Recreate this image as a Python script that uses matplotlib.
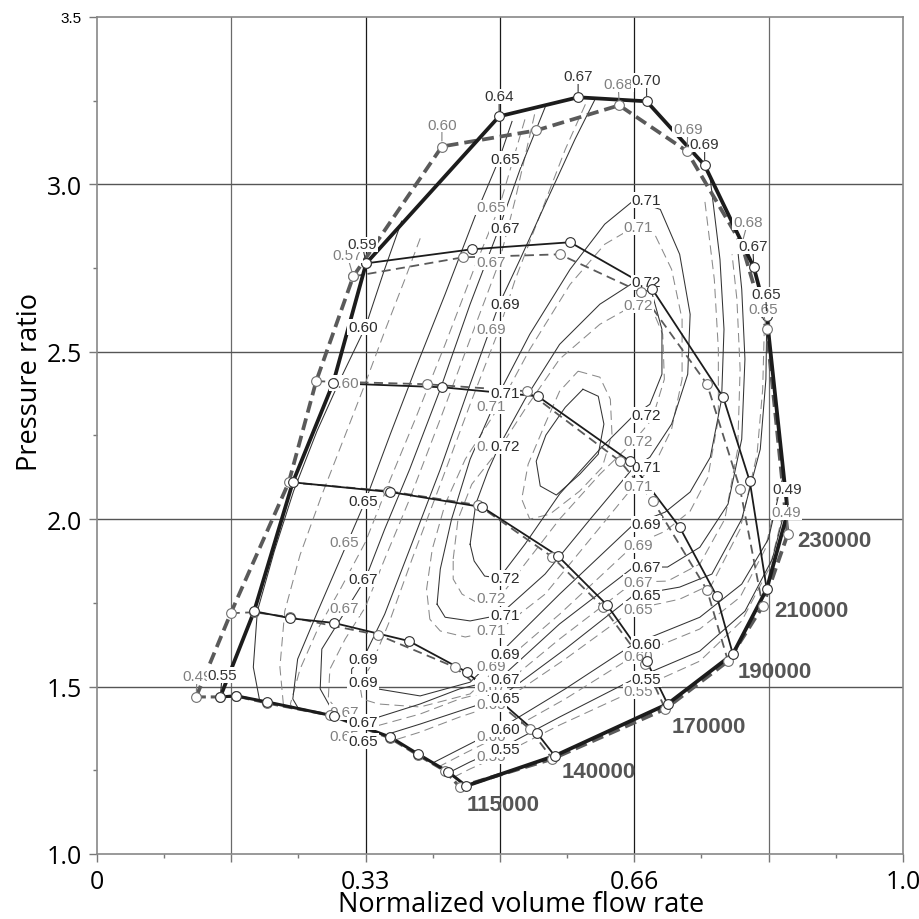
import matplotlib
matplotlib.use("Agg")
import matplotlib.pyplot as plt
from matplotlib.patches import Polygon
import numpy as np

plt.rcParams['font.family'] = ['Open Sans', 'DejaVu Sans']
LAB = ['Liberation Sans', 'DejaVu Sans']

# ---------------- speed lines (solid = measured, dashed = simulated) ----------------
speeds = [115000, 140000, 170000, 190000, 210000, 230000]

s115_x = [0.153, 0.173, 0.211, 0.294, 0.364, 0.398, 0.436, 0.458]
s115_y = [1.469, 1.472, 1.454, 1.412, 1.349, 1.299, 1.245, 1.203]
d115_x = [0.123, 0.153, 0.173, 0.211, 0.289, 0.364, 0.398, 0.432, 0.450]
d115_y = [1.469, 1.469, 1.472, 1.451, 1.415, 1.346, 1.296, 1.248, 1.200]

s140_x = [0.195, 0.240, 0.294, 0.387, 0.459, 0.546, 0.568]
s140_y = [1.725, 1.704, 1.690, 1.636, 1.543, 1.361, 1.293]
d140_x = [0.166, 0.195, 0.240, 0.349, 0.444, 0.537, 0.565]
d140_y = [1.719, 1.722, 1.707, 1.654, 1.558, 1.373, 1.284]

s170_x = [0.243, 0.364, 0.478, 0.572, 0.633, 0.682, 0.708]
s170_y = [2.110, 2.081, 2.036, 1.890, 1.743, 1.576, 1.448]
d170_x = [0.238, 0.361, 0.473, 0.565, 0.628, 0.680, 0.705]
d170_y = [2.110, 2.084, 2.042, 1.887, 1.737, 1.567, 1.433]

s190_x = [0.293, 0.428, 0.547, 0.661, 0.723, 0.769, 0.789]
s190_y = [2.406, 2.394, 2.367, 2.173, 1.976, 1.770, 1.597]
d190_x = [0.272, 0.409, 0.534, 0.649, 0.690, 0.757, 0.783]
d190_y = [2.412, 2.403, 2.382, 2.173, 2.054, 1.788, 1.576]

s210_x = [0.334, 0.465, 0.587, 0.689, 0.777, 0.810, 0.831]
s210_y = [2.764, 2.806, 2.827, 2.687, 2.364, 2.113, 1.791]
d210_x = [0.318, 0.454, 0.574, 0.675, 0.757, 0.798, 0.826]
d210_y = [2.725, 2.782, 2.791, 2.678, 2.403, 2.090, 1.740]

s230_x = [0.334, 0.499, 0.597, 0.682, 0.754, 0.815, 0.831, 0.857]
s230_y = [2.764, 3.203, 3.260, 3.248, 3.057, 2.752, 2.606, 2.021]
d230_x = [0.318, 0.428, 0.545, 0.648, 0.732, 0.800, 0.831, 0.857]
d230_y = [2.725, 3.113, 3.161, 3.236, 3.099, 2.821, 2.567, 1.955]

# efficiency values written at the 230000 points and at the 115000 surge point
s230_eff = ['0.59', '0.64', '0.67', '0.70', '0.69', '0.67', '0.65', '0.49']
d230_eff = ['0.57', '0.60', '', '0.68', '0.69', '0.68', '0.65', '0.49']
s115_surge_eff = '0.55'
d115_surge_eff = '0.49'

# ---------------- efficiency contours (solid / dashed) ----------------
c55_s_x = [0.426, 0.463, 0.499, 0.574, 0.666, 0.748, 0.804, 0.838, 0.857]
c55_s_y = [1.230, 1.275, 1.313, 1.409, 1.522, 1.606, 1.725, 1.881, 2.060]
c55_d_x = [0.426, 0.463, 0.499, 0.574, 0.666, 0.748, 0.800, 0.835, 0.854]
c55_d_y = [1.209, 1.254, 1.293, 1.385, 1.487, 1.576, 1.696, 1.857, 2.045]

c60a_s_x = [0.205, 0.194, 0.199, 0.220, 0.244, 0.273, 0.302, 0.333, 0.356, 0.378]
c60a_s_y = [1.418, 1.558, 1.725, 1.904, 2.084, 2.263, 2.418, 2.573, 2.740, 2.890]
c60b_s_x = [0.407, 0.450, 0.499, 0.581, 0.666, 0.748, 0.800, 0.833, 0.851]
c60b_s_y = [1.260, 1.313, 1.373, 1.493, 1.627, 1.707, 1.806, 1.940, 2.125]
c60a_d_x = [0.233, 0.227, 0.233, 0.252, 0.279, 0.308, 0.333, 0.357, 0.382, 0.403]
c60a_d_y = [1.403, 1.558, 1.725, 1.893, 2.072, 2.251, 2.406, 2.561, 2.716, 2.851]
c60b_d_x = [0.407, 0.450, 0.499, 0.581, 0.666, 0.748, 0.798, 0.829, 0.847]
c60b_d_y = [1.239, 1.293, 1.352, 1.463, 1.591, 1.672, 1.767, 1.910, 2.096]

c65_s_x = [0.515, 0.499, 0.470, 0.432, 0.395, 0.364, 0.333, 0.302, 0.274, 0.249, 0.243, 0.259, 0.295,
           0.333, 0.401, 0.450, 0.499, 0.581, 0.666, 0.723, 0.763, 0.800, 0.823, 0.830, 0.831]
c65_s_y = [3.188, 3.075, 2.910, 2.672, 2.448, 2.254, 2.054, 1.881, 1.725, 1.582, 1.463, 1.397, 1.349,
           1.337, 1.388, 1.427, 1.466, 1.612, 1.773, 1.797, 1.836, 2.000, 2.209, 2.418, 2.582]
c65_d_x = [0.531, 0.499, 0.470, 0.432, 0.395, 0.364, 0.333, 0.302, 0.274, 0.252, 0.240, 0.252, 0.289,
           0.333, 0.401, 0.450, 0.499, 0.581, 0.666, 0.723, 0.763, 0.798, 0.819, 0.826, 0.828]
c65_d_y = [3.194, 2.931, 2.761, 2.522, 2.299, 2.119, 1.931, 1.791, 1.672, 1.552, 1.448, 1.382, 1.334,
           1.313, 1.364, 1.409, 1.448, 1.582, 1.731, 1.761, 1.806, 1.970, 2.194, 2.388, 2.567]

c67_s_x = [0.556, 0.525, 0.499, 0.463, 0.426, 0.388, 0.357, 0.333, 0.302, 0.279, 0.277, 0.293, 0.330,
           0.401, 0.450, 0.499, 0.574, 0.666, 0.708, 0.748, 0.783, 0.800, 0.804, 0.800, 0.795]
c67_s_y = [3.230, 3.045, 2.869, 2.642, 2.388, 2.149, 1.970, 1.821, 1.701, 1.612, 1.493, 1.424, 1.394,
           1.448, 1.493, 1.522, 1.687, 1.857, 1.857, 1.916, 2.045, 2.239, 2.478, 2.687, 2.806]
c67_d_x = [0.543, 0.519, 0.499, 0.463, 0.426, 0.388, 0.357, 0.333, 0.308, 0.289, 0.287, 0.302, 0.333,
           0.401, 0.450, 0.499, 0.574, 0.666, 0.708, 0.748, 0.779, 0.795, 0.798, 0.794, 0.788]
c67_d_y = [3.209, 2.955, 2.767, 2.537, 2.299, 2.060, 1.881, 1.737, 1.642, 1.552, 1.463, 1.418, 1.373,
           1.418, 1.463, 1.493, 1.642, 1.812, 1.815, 1.866, 2.000, 2.209, 2.448, 2.657, 2.791]

c69_s_x = [0.618, 0.593, 0.556, 0.525, 0.499, 0.463, 0.426, 0.388, 0.357, 0.333, 0.316, 0.316, 0.333,
           0.401, 0.463, 0.499, 0.574, 0.666, 0.705, 0.736, 0.761, 0.775, 0.778, 0.773, 0.761]
c69_s_y = [3.254, 3.134, 2.940, 2.776, 2.642, 2.403, 2.149, 1.910, 1.716, 1.597, 1.552, 1.513, 1.499,
           1.472, 1.513, 1.597, 1.776, 1.985, 2.021, 2.081, 2.185, 2.358, 2.567, 2.776, 3.015]
c69_d_x = [0.606, 0.581, 0.550, 0.519, 0.499, 0.463, 0.426, 0.391, 0.364, 0.341, 0.326, 0.329, 0.349,
           0.401, 0.463, 0.499, 0.574, 0.666, 0.705, 0.736, 0.758, 0.771, 0.771, 0.766, 0.754]
c69_d_y = [3.239, 3.104, 2.910, 2.716, 2.567, 2.343, 2.104, 1.881, 1.701, 1.567, 1.507, 1.463, 1.448,
           1.439, 1.478, 1.561, 1.716, 1.922, 1.964, 2.024, 2.125, 2.299, 2.507, 2.716, 2.955]

c71_s_x = [0.422, 0.426, 0.440, 0.463, 0.499, 0.537, 0.587, 0.630, 0.666, 0.699, 0.723, 0.736, 0.733,
           0.713, 0.686, 0.666, 0.612, 0.556, 0.499, 0.463, 0.432, 0.422]
c71_s_y = [1.746, 1.851, 2.000, 2.179, 2.376, 2.552, 2.746, 2.881, 2.952, 2.925, 2.791, 2.612, 2.433,
           2.284, 2.185, 2.155, 2.000, 1.836, 1.713, 1.696, 1.707, 1.746]
c71_d_x = [0.413, 0.409, 0.416, 0.432, 0.457, 0.499, 0.537, 0.587, 0.630, 0.666, 0.692, 0.713, 0.726,
           0.726, 0.713, 0.692, 0.666, 0.612, 0.556, 0.499, 0.457, 0.426, 0.413]
c71_d_y = [1.701, 1.791, 1.910, 2.045, 2.179, 2.337, 2.507, 2.701, 2.821, 2.872, 2.851, 2.746, 2.597,
           2.418, 2.269, 2.164, 2.099, 1.940, 1.776, 1.669, 1.648, 1.666, 1.701]

c72_s_x = [0.463, 0.470, 0.485, 0.499, 0.531, 0.574, 0.624, 0.666, 0.689, 0.701, 0.701, 0.686, 0.666,
           0.624, 0.574, 0.531, 0.499, 0.481, 0.468, 0.463]
c72_s_y = [1.925, 2.045, 2.143, 2.218, 2.358, 2.522, 2.642, 2.707, 2.672, 2.567, 2.433, 2.343, 2.310,
           2.209, 2.075, 1.925, 1.824, 1.830, 1.875, 1.925]
c72_d_x = [0.442, 0.448, 0.465, 0.499, 0.531, 0.574, 0.624, 0.666, 0.689, 0.702, 0.704, 0.689, 0.666,
           0.624, 0.574, 0.531, 0.499, 0.475, 0.453, 0.442, 0.442]
c72_d_y = [1.881, 2.000, 2.104, 2.209, 2.328, 2.478, 2.582, 2.639, 2.627, 2.552, 2.418, 2.299, 2.233,
           2.134, 2.000, 1.866, 1.764, 1.746, 1.776, 1.821, 1.881]

c73_s_x = [0.603, 0.622, 0.629, 0.622, 0.599, 0.570, 0.550, 0.545, 0.557, 0.581, 0.603]
c73_s_y = [2.388, 2.367, 2.284, 2.194, 2.134, 2.072, 2.099, 2.173, 2.251, 2.334, 2.388]
c73_d_x = [0.597, 0.624, 0.637, 0.639, 0.627, 0.599, 0.562, 0.537, 0.527, 0.535, 0.556, 0.574, 0.597]
c73_d_y = [2.442, 2.424, 2.358, 2.254, 2.155, 2.084, 2.015, 2.000, 2.060, 2.164, 2.284, 2.382, 2.442]

# contour labels: value and pressure ratio where the contour meets x = 1/3, 1/2, 2/3
lab_s_033 = ['0.60', '0.65', '0.67', '0.69', '0.69', '0.67', '0.65']
lab_s_033_y = [2.573, 2.054, 1.821, 1.582, 1.513, 1.394, 1.337]
lab_s_050 = ['0.65', '0.67', '0.69', '0.71', '0.72', '0.72', '0.71', '0.69', '0.67', '0.65', '0.60', '0.55']
lab_s_050_y = [3.075, 2.869, 2.642, 2.376, 2.218, 1.824, 1.713, 1.597, 1.522, 1.466, 1.373, 1.313]
lab_s_066 = ['0.71', '0.72', '0.72', '0.71', '0.69', '0.67', '0.65', '0.60', '0.55']
lab_s_066_y = [2.952, 2.707, 2.310, 2.155, 1.985, 1.857, 1.773, 1.627, 1.522]
lab_d_033 = ['0.60', '0.65', '0.67', '0.67', '0.65']
lab_d_033_y = [2.406, 1.931, 1.734, 1.424, 1.352]
lab_d_050 = ['0.65', '0.67', '0.69', '0.71', '0.72', '0.72', '0.71', '0.69', '0.67', '0.65', '0.60', '0.55']
lab_d_050_y = [2.931, 2.767, 2.567, 2.337, 2.218, 1.764, 1.669, 1.561, 1.499, 1.448, 1.352, 1.293]
lab_d_066 = ['0.71', '0.72', '0.72', '0.71', '0.69', '0.67', '0.65', '0.60', '0.55']
lab_d_066_y = [2.872, 2.639, 2.233, 2.099, 1.922, 1.812, 1.731, 1.591, 1.487]

# ---------------- styles ----------------
C_SOLID = '#1c1c1c'
C_DASH = '#5a5a5a'
C_CS = '#333333'
C_CD = '#8a8a8a'
C_LS = '#2a2a2a'
C_LD = '#808080'

fig = plt.figure(figsize=(9.19, 9.20), dpi=100)
ax = fig.add_axes([0.1055, 0.0707, 0.8770, 0.9098])
ax.set_xlim(0, 1.0)
ax.set_ylim(1.0, 3.5)

# grid
for gx in [1/6, 1/3, 0.5, 2/3, 5/6]:
    col = '#1a1a1a' if gx in (1/3, 0.5, 2/3) else '#6a6a6a'
    ax.axvline(gx, color=col, lw=0.9, zorder=0.5)
for gy in [1.5, 2.0, 2.5, 3.0]:
    ax.axhline(gy, color='#555555', lw=1.0, zorder=0.5)

# clip region (outer envelope of the map)
bx = [d115_x[0], d140_x[0], d170_x[0], d190_x[0], d210_x[0], d230_x[1]] + s230_x[1:] + \
     [d230_x[-1], d210_x[-1], d190_x[-1], d170_x[-1], d140_x[-1]] + d115_x[::-1][:-1]
by = [d115_y[0], d140_y[0], d170_y[0], d190_y[0], d210_y[0], d230_y[1]] + s230_y[1:] + \
     [d230_y[-1], d210_y[-1], d190_y[-1], d170_y[-1], d140_y[-1]] + d115_y[::-1][:-1]
clip = Polygon(np.column_stack([bx, by]), closed=True, transform=ax.transData,
               fc='none', ec='none')
ax.add_patch(clip)

solid_contours = [(c55_s_x, c55_s_y), (c60a_s_x, c60a_s_y), (c60b_s_x, c60b_s_y), (c65_s_x, c65_s_y),
                  (c67_s_x, c67_s_y), (c69_s_x, c69_s_y), (c71_s_x, c71_s_y), (c72_s_x, c72_s_y),
                  (c73_s_x, c73_s_y)]
dash_contours = [(c55_d_x, c55_d_y), (c60a_d_x, c60a_d_y), (c60b_d_x, c60b_d_y), (c65_d_x, c65_d_y),
                 (c67_d_x, c67_d_y), (c69_d_x, c69_d_y), (c71_d_x, c71_d_y), (c72_d_x, c72_d_y),
                 (c73_d_x, c73_d_y)]
for cx, cy in dash_contours:
    ln, = ax.plot(cx, cy, color=C_CD, lw=0.75, ls=(0, (9, 5)), zorder=1)
    ln.set_clip_path(clip)
for cx, cy in solid_contours:
    ln, = ax.plot(cx, cy, color=C_CS, lw=0.75, zorder=1.2)
    ln.set_clip_path(clip)

# speed lines
solid_lines = [(s115_x, s115_y), (s140_x, s140_y), (s170_x, s170_y), (s190_x, s190_y),
               (s210_x, s210_y), (s230_x, s230_y)]
dash_lines = [(d115_x, d115_y), (d140_x, d140_y), (d170_x, d170_y), (d190_x, d190_y),
              (d210_x, d210_y), (d230_x, d230_y)]
thick = {0: 2.2, 5: 2.7}
for i, (lx, ly) in enumerate(dash_lines):
    w = thick.get(i, 1.3)
    ax.plot(lx, ly, color=C_DASH, lw=w, ls=(0, (3.2, 1.6)) if w > 2 else (0, (5, 3)), zorder=3)
for i, (lx, ly) in enumerate(solid_lines):
    ax.plot(lx, ly, color=C_SOLID, lw=thick.get(i, 1.3), zorder=3.2)

# surge and choke lines through the end points of the speed lines
surge_s_x = [l[0][0] for l in solid_lines[:5]]
surge_s_y = [l[1][0] for l in solid_lines[:5]]
surge_d_x = [l[0][0] for l in dash_lines[:5]]
surge_d_y = [l[1][0] for l in dash_lines[:5]]
choke_s_x = [l[0][-1] for l in solid_lines[::-1]]
choke_s_y = [l[1][-1] for l in solid_lines[::-1]]
choke_d_x = [l[0][-1] for l in dash_lines[::-1]]
choke_d_y = [l[1][-1] for l in dash_lines[::-1]]
ax.plot(surge_d_x, surge_d_y, color=C_DASH, lw=2.7, ls=(0, (3.2, 1.6)), zorder=3)
ax.plot(choke_d_x, choke_d_y, color=C_DASH, lw=2.7, ls=(0, (3.2, 1.6)), zorder=3)
ax.plot(surge_s_x, surge_s_y, color=C_SOLID, lw=2.7, zorder=3.2)
ax.plot(choke_s_x, choke_s_y, color=C_SOLID, lw=2.7, zorder=3.2)

# contour labels
bbox_w = dict(boxstyle='square,pad=0.06', fc='white', ec='none')
for labs, ys, xc in [(lab_d_033, lab_d_033_y, 0.307), (lab_d_050, lab_d_050_y, 0.489),
                     (lab_d_066, lab_d_066_y, 0.672)]:
    for t, yv in zip(labs, ys):
        ax.text(xc, yv, t, ha='center', va='center', fontsize=11, color=C_LD, family=LAB,
                bbox=bbox_w, zorder=4)
for labs, ys, xc in [(lab_s_033, lab_s_033_y, 0.330), (lab_s_050, lab_s_050_y, 0.506),
                     (lab_s_066, lab_s_066_y, 0.682)]:
    for t, yv in zip(labs, ys):
        ax.text(xc, yv, t, ha='center', va='center', fontsize=11, color=C_LS, family=LAB,
                bbox=bbox_w, zorder=4.5)

# markers
for lx, ly in dash_lines:
    ax.plot(lx, ly, ls='none', marker='o', ms=7, mfc='white', mec='#707070', mew=0.8, zorder=6)
for lx, ly in solid_lines:
    ax.plot(lx, ly, ls='none', marker='o', ms=7, mfc='white', mec='#303030', mew=0.8, zorder=6.2)

# efficiency labels at the operating points (offsets in pixels)
d_off = [(-6, 21), (0, 22), (0, 0), (-1, 21), (1, 22), (6, 22), (-4, 20), (-1, 22)]
s_off = [(-4, 19), (0, 20), (0, 21), (0, 21), (0, 21), (-1, 21), (-1, 22), (0, 23)]

def eff_label(x, y, t, off, col, z):
    ax.annotate(t, xy=(x, y), xytext=off, textcoords='offset pixels', ha='center', va='center',
                fontsize=11, color=col, family=LAB,
                bbox=dict(boxstyle='square,pad=0.04', fc='white', ec='none'),
                arrowprops=dict(arrowstyle='-', color=col, lw=0.8, shrinkA=0, shrinkB=4),
                zorder=z)

for x, y, t, off in zip(d230_x, d230_y, d230_eff, d_off):
    if t:
        eff_label(x, y, t, off, C_LD, 7)
eff_label(d115_x[0], d115_y[0], d115_surge_eff, (1, 21), C_LD, 7)
for x, y, t, off in zip(s230_x, s230_y, s230_eff, s_off):
    eff_label(x, y, t, off, '#333333', 7.5)
eff_label(s115_x[0], s115_y[0], s115_surge_eff, (2, 22), '#333333', 7.5)

# speed labels at the choke end of each line
spd_off = [(1, -19), (7, -16), (4, -23), (5, -17), (8, -21), (10, -28)]
for spd, (lx, ly), off in zip(speeds, solid_lines, spd_off):
    ax.annotate(str(spd), xy=(lx[-1], ly[-1]), xytext=off, textcoords='offset pixels',
                ha='left', va='center', fontsize=16, fontweight='bold', color='#555555',
                family=LAB, zorder=8)

# axes
ax.set_xticks([0, 1/6, 1/3, 0.5, 2/3, 5/6, 1.0])
ax.set_xticklabels(['0', '', '0.33', '', '0.66', '', '1.0'])
ax.set_xticks([1/12, 3/12, 5/12, 7/12, 9/12, 11/12], minor=True)
ax.set_yticks([1.0, 1.5, 2.0, 2.5, 3.0, 3.5])
ax.set_yticks([1.25, 1.75, 2.25, 2.75, 3.25], minor=True)
ax.tick_params(which='major', direction='out', length=6, width=1, color='#777777',
               labelsize=18, pad=5)
ax.tick_params(which='minor', direction='out', length=3, width=1, color='#777777')
ylabs = ax.set_yticklabels(['1.0', '1.5', '2.0', '2.5', '3.0', '3.5'])
ylabs[-1].set_fontsize(11)
ylabs[-1].set_family(LAB)
for sp in ax.spines.values():
    sp.set_color('#888888')
    sp.set_linewidth(1.2)

ax.set_xlabel('Normalized volume flow rate', fontsize=19.5, va='center')
ax.xaxis.set_label_coords(0.526, -0.060)
ax.set_ylabel('Pressure ratio', fontsize=19.5, va='center')
ax.yaxis.set_label_coords(-0.083, 0.565)

fig.savefig('out.png', dpi=100)
